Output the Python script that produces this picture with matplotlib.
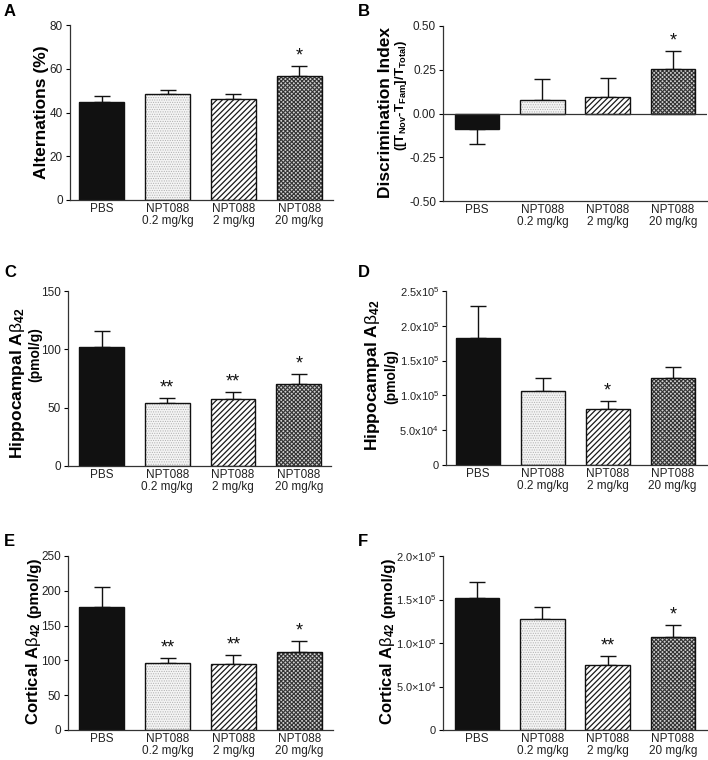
import numpy as np
import matplotlib
matplotlib.use('Agg')
import matplotlib.pyplot as plt
from matplotlib.ticker import FuncFormatter

plt.rcParams['font.family'] = ['Liberation Sans', 'DejaVu Sans']
plt.rcParams['mathtext.fontset'] = 'custom'
plt.rcParams['mathtext.rm'] = 'Liberation Sans'
plt.rcParams['mathtext.bf'] = 'Liberation Sans:bold'
plt.rcParams['mathtext.it'] = 'Liberation Sans:italic'

# data
groups = ['PBS', 'NPT088\n0.2 mg/kg', 'NPT088\n2 mg/kg', 'NPT088\n20 mg/kg']

alt_mean = [45.0, 48.3, 46.0, 56.8]
alt_sem = [2.5, 2.0, 2.6, 4.6]
alt_sig = ['', '', '', '*']

di_mean = [-0.086, 0.076, 0.095, 0.252]
di_sem = [0.090, 0.122, 0.107, 0.105]
di_sig = ['', '', '', '*']

hip_mean = [101.7, 54.0, 57.7, 70.3]
hip_sem = [14.3, 4.6, 6.0, 8.8]
hip_sig = ['', '**', '**', '*']

hip2_mean = [1.831e5, 1.061e5, 0.798e5, 1.257e5]
hip2_sem = [0.449e5, 0.182e5, 0.125e5, 0.153e5]
hip2_sig = ['', '', '*', '']

cor_mean = [176.4, 96.1, 94.6, 112.3]
cor_sem = [29.6, 7.6, 13.4, 15.8]
cor_sig = ['', '**', '**', '*']

cor2_mean = [1.513e5, 1.28e5, 0.743e5, 1.065e5]
cor2_sem = [0.188e5, 0.138e5, 0.111e5, 0.146e5]
cor2_sig = ['', '', '**', '*']

W, H = 708, 760
fig = plt.figure(figsize=(W / 100, H / 100), dpi=100)
renderer = fig.canvas.get_renderer()


def add_axes(left, right, top, bottom):
    return fig.add_axes([left / W, 1 - bottom / H, (right - left) / W, (bottom - top) / H])


# bar styles: face, hatch, hatch colour, hatch width
styles = [('#111111', '', '#111111', 1.0),
          ('#f4f4f4', '.......', '#b0b0b0', 0.5),
          ('white', '//////', '#1a1a1a', 0.9),
          ('#d0d0d0', 'xxxxxxxx', '#333333', 0.8)]


def draw_panel(ax, mean, sem, sig, xlim, ylim, yticks, fmt=None):
    x = np.arange(len(mean))
    for i in range(len(mean)):
        face, hatch, hcol, hlw = styles[i]
        with plt.rc_context({'hatch.linewidth': hlw}):
            ax.bar(x[i], mean[i], width=0.68, color=face, hatch=hatch,
                   edgecolor=hcol, linewidth=0, zorder=2)
        ax.bar(x[i], mean[i], width=0.68, fill=False, edgecolor='#111111',
               linewidth=1.0, zorder=3)
        # one-sided error bar, away from zero
        if mean[i] >= 0:
            err = [[0], [sem[i]]]
            top = mean[i] + sem[i]
        else:
            err = [[sem[i]], [0]]
            top = max(mean[i], 0)
        ax.errorbar(x[i], mean[i], yerr=err, fmt='none', ecolor='#111111',
                    elinewidth=1.0, capsize=5.5, capthick=1.0, zorder=1)
        if sig[i]:
            ax.annotate(sig[i], (x[i], top), xytext=(0, 1), textcoords='offset points',
                        ha='center', va='bottom', fontsize=13, color='#111111')
    ax.set_xlim(*xlim)
    ax.set_ylim(*ylim)
    ax.set_yticks(yticks)
    if fmt is not None:
        ax.yaxis.set_major_formatter(FuncFormatter(fmt))
    ax.set_xticks(x)
    ax.set_xticklabels(groups, fontsize=8.5, color='#222222', linespacing=1.0)
    ax.tick_params(axis='x', length=0, pad=2)
    ax.tick_params(axis='y', labelsize=8.5, labelcolor='#222222', length=3, width=0.8,
                   direction='out', pad=2)
    for s in ['top', 'right']:
        ax.spines[s].set_visible(False)
    for s in ['left', 'bottom']:
        ax.spines[s].set_linewidth(0.9)
        ax.spines[s].set_color('#333333')


def sci_fmt(sep):
    def f(v, pos):
        if v == 0:
            return '0'
        e = int(np.floor(np.log10(v)))
        m = v / 10 ** e
        return '%.1f%s10$^{%d}$' % (m, sep, e)
    return f


def vtext(x, y, s, size):
    fig.text(x / W, 1 - y / H, s, rotation=90, ha='center', va='center',
             fontsize=size, fontweight='bold')


def vtext_pair(x, y, big, small, big_size, small_size):
    # big text from the lower end y upward, small text right after it, on one baseline
    t = fig.text(x / W, 1 - y / H, big, rotation=90, rotation_mode='anchor', ha='left',
                 va='baseline', fontsize=big_size, fontweight='bold')
    top = t.get_window_extent(renderer).y1
    fig.text(x / W, (top + 4) / H, small, rotation=90, rotation_mode='anchor', ha='left',
             va='baseline', fontsize=small_size, fontweight='bold')


def panel_letter(x, y, s):
    fig.text(x / W, 1 - y / H, s, fontsize=12, fontweight='bold', ha='left', va='center')


abeta = r'A$\mathrm{\beta}_{\mathbf{42}}$'

# A
axA = add_axes(70, 333, 25, 200)
draw_panel(axA, alt_mean, alt_sem, alt_sig, (-0.48, 3.51), (0, 80), [0, 20, 40, 60, 80])
vtext(42, 112, 'Alternations (%)', 12.5)
panel_letter(4, 12, 'A')

# B
axB = add_axes(443, 707, 26, 201)
draw_panel(axB, di_mean, di_sem, di_sig, (-0.52, 3.52), (-0.5, 0.5),
           [-0.5, -0.25, 0, 0.25, 0.5], fmt=lambda v, p: '%.2f' % v)
axB.axhline(0, color='#333333', linewidth=0.9, zorder=4)
vtext(386, 113, 'Discrimination Index', 12.5)
vtext(401, 95, r'([T$_{\mathbf{Nov}}$-T$_{\mathbf{Fam}}$]/T$_{\mathbf{Total}}$)', 9.5)
panel_letter(358, 12, 'B')

# C
axC = add_axes(68, 331, 291, 466)
draw_panel(axC, hip_mean, hip_sem, hip_sig, (-0.51, 3.49), (0, 150), [0, 50, 100, 150])
vtext(18, 383, 'Hippocampal ' + abeta, 12.5)
vtext(35, 355, '(pmol/g)', 10)
panel_letter(4, 273, 'C')

# D
axD = add_axes(446, 707, 291, 465)
draw_panel(axD, hip2_mean, hip2_sem, hip2_sig, (-0.49, 3.53), (0, 2.5e5),
           [0, 0.5e5, 1.0e5, 1.5e5, 2.0e5, 2.5e5], fmt=sci_fmt('x'))
axD.tick_params(axis='y', labelsize=8)
vtext(372, 375, 'Hippocampal ' + abeta, 12.5)
vtext(391, 377, '(pmol/g)', 10)
panel_letter(358, 273, 'D')

# E
axE = add_axes(68, 333, 556, 730)
draw_panel(axE, cor_mean, cor_sem, cor_sig, (-0.51, 3.51), (0, 250), [0, 50, 100, 150, 200, 250])
vtext_pair(38, 725, 'Cortical ' + abeta, '(pmol/g)', 12, 11)
panel_letter(4, 542, 'E')

# F
axF = add_axes(443, 707, 556, 730)
draw_panel(axF, cor2_mean, cor2_sem, cor2_sig, (-0.52, 3.52), (0, 2.0e5),
           [0, 0.5e5, 1.0e5, 1.5e5, 2.0e5], fmt=sci_fmt('×'))
axF.tick_params(axis='y', labelsize=8)
vtext_pair(392, 725, 'Cortical ' + abeta, '(pmol/g)', 12, 11)
panel_letter(358, 542, 'F')

fig.savefig('out.png', dpi=100, facecolor='white')
